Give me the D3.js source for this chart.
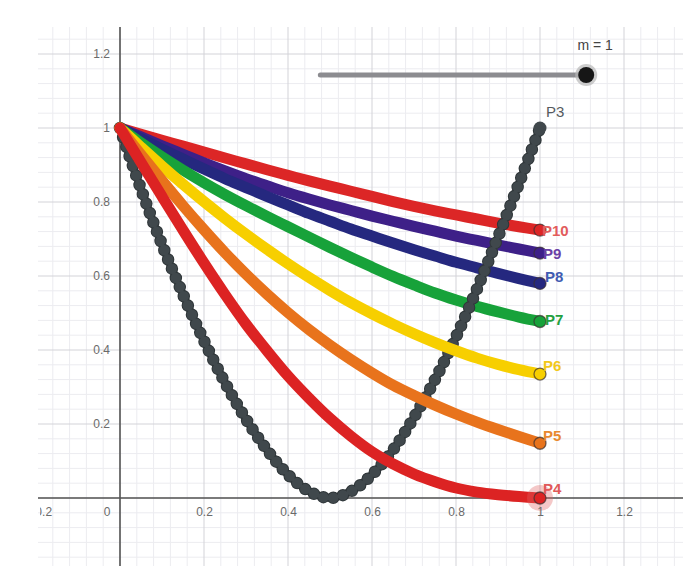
<!DOCTYPE html>
<html><head><meta charset="utf-8">
<script src="https://cdn.jsdelivr.net/npm/d3@7"></script>
<style>
body{margin:0;background:#fff}
svg{display:block}
text{font-family:Arial,"Liberation Sans",sans-serif}
</style>
</head><body>
<svg id="c" width="697" height="566"></svg>
<script>
// ---- data ----
const xs  = [0,0.05,0.1,0.15,0.2,0.25,0.3,0.35,0.4,0.45,0.5,0.55,0.6,0.65,0.7,0.75,0.8,0.85,0.9,0.95,1];
const p3  = [1.00,0.835,0.685,0.55,0.425,0.312,0.213,0.13,0.063,0.018,0.00,0.018,0.063,0.13,0.218,0.32,0.435,0.565,0.705,0.85,1.00];
const p4  = [1.00,0.907,0.815,0.724,0.635,0.55,0.47,0.398,0.33,0.27,0.215,0.167,0.125,0.092,0.065,0.044,0.027,0.016,0.009,0.004,0.00];
const p5  = [1.00,0.928,0.858,0.79,0.725,0.663,0.605,0.551,0.501,0.455,0.413,0.374,0.338,0.305,0.277,0.251,0.227,0.205,0.185,0.166,0.148];
const p6  = [1.00,0.948,0.897,0.848,0.801,0.756,0.713,0.672,0.633,0.596,0.561,0.528,0.498,0.47,0.444,0.42,0.398,0.378,0.361,0.347,0.335];
const p7  = [1.00,0.96,0.922,0.886,0.852,0.82,0.79,0.761,0.733,0.705,0.677,0.65,0.624,0.599,0.576,0.554,0.535,0.518,0.503,0.489,0.477];
const p8  = [1.00,0.971,0.943,0.916,0.889,0.863,0.839,0.815,0.792,0.769,0.748,0.727,0.708,0.689,0.671,0.654,0.637,0.622,0.607,0.593,0.58];
const p9  = [1.00,0.976,0.952,0.929,0.906,0.884,0.863,0.844,0.825,0.808,0.792,0.777,0.762,0.748,0.734,0.721,0.708,0.696,0.684,0.673,0.662];
const p10 = [1.00,0.983,0.967,0.951,0.935,0.919,0.903,0.887,0.872,0.857,0.843,0.829,0.815,0.801,0.788,0.776,0.765,0.754,0.743,0.733,0.724];
const seriesNames = ["P10","P9","P8","P7","P3","P6","P5","P4"];
const xTickValues = [-0.2,0.2,0.4,0.6,0.8,1,1.2];
const yTickValues = [0.2,0.4,0.6,0.8,1,1.2];
const sliderLabel = "m = 1";

// ---- styles ----
const styles = {
  P3:  {data:p3,  color:"#40484c", label:"#555a5e", dots:true},
  P4:  {data:p4,  color:"#dc2323", label:"#e05858"},
  P5:  {data:p5,  color:"#e8731c", label:"#e8892e"},
  P6:  {data:p6,  color:"#f7cf00", label:"#f2c81a"},
  P7:  {data:p7,  color:"#17a23a", label:"#24a040"},
  P8:  {data:p8,  color:"#25287f", label:"#3f5cb2"},
  P9:  {data:p9,  color:"#3e2088", label:"#6a40a6"},
  P10: {data:p10, color:"#dc2626", label:"#e25c5c"}
};

const svg = d3.select("#c");
const L = 38, R = 683, T = 27, B = 566;
const x = d3.scaleLinear().domain([0,1]).range([120,540]);
const y = d3.scaleLinear().domain([0,1]).range([498,128]);

const defs = svg.append("defs");
defs.append("clipPath").attr("id","clip").append("rect")
  .attr("x",L).attr("y",T).attr("width",R-L).attr("height",B-T);
defs.append("clipPath").attr("id","clipLab").append("rect")
  .attr("x",L+2).attr("y",T).attr("width",R-L-2).attr("height",B-T);

const g = svg.append("g").attr("clip-path","url(#clip)");

// grid
const xi = d3.range(-5, 36), yi = d3.range(-5, 33);
g.append("g").selectAll("line").data(xi.filter(i=>i%5!==0)).join("line")
  .attr("x1",i=>x(i*0.04)).attr("x2",i=>x(i*0.04)).attr("y1",T).attr("y2",B)
  .attr("stroke","#ececf0").attr("stroke-width",1);
g.append("g").selectAll("line").data(yi.filter(i=>i%5!==0)).join("line")
  .attr("y1",i=>y(i*0.04)).attr("y2",i=>y(i*0.04)).attr("x1",L).attr("x2",R)
  .attr("stroke","#ececf0").attr("stroke-width",1);
g.append("g").selectAll("line").data(xi.filter(i=>i%5===0)).join("line")
  .attr("x1",i=>x(i*0.04)).attr("x2",i=>x(i*0.04)).attr("y1",T).attr("y2",B)
  .attr("stroke","#d3d3d8").attr("stroke-width",1);
g.append("g").selectAll("line").data(yi.filter(i=>i%5===0)).join("line")
  .attr("y1",i=>y(i*0.04)).attr("y2",i=>y(i*0.04)).attr("x1",L).attr("x2",R)
  .attr("stroke","#d3d3d8").attr("stroke-width",1);

// axes lines
g.append("line").attr("x1",L).attr("x2",R).attr("y1",y(0)).attr("y2",y(0))
  .attr("stroke","#555").attr("stroke-width",1.6);
g.append("line").attr("x1",x(0)).attr("x2",x(0)).attr("y1",T).attr("y2",B)
  .attr("stroke","#555").attr("stroke-width",1.6);

// tick labels via d3 axes
const fmt = d => d3.format("")(d);
const labs = svg.append("g").attr("clip-path","url(#clipLab)");
const xAxis = labs.append("g").attr("transform",`translate(0,${y(0)})`)
  .call(d3.axisBottom(x).tickValues(xTickValues).tickSize(0).tickPadding(9).tickFormat(fmt));
const yAxis = labs.append("g").attr("transform",`translate(${x(0)},0)`)
  .call(d3.axisLeft(y).tickValues(yTickValues).tickSize(0).tickPadding(10).tickFormat(fmt));
[xAxis,yAxis].forEach(a=>{
  a.select(".domain").remove();
  a.selectAll("text").attr("fill","#6a6a6a").style("font-size","12px").style("font-family","Arial, 'Liberation Sans', sans-serif");
});
xAxis.selectAll(".tick").filter(d=>d<0).select("text").attr("dx",3.7);
labs.append("text").attr("x",x(0)-13).attr("y",y(0)+18).attr("text-anchor","middle")
  .attr("fill","#6a6a6a").style("font-size","12px").text("0");

// slider
g.append("line").attr("x1",x(0.477)).attr("x2",x(1.11)).attr("y1",75).attr("y2",75)
  .attr("stroke","#8c8c90").attr("stroke-width",5).attr("stroke-linecap","round");
g.append("circle").attr("cx",x(1.11)).attr("cy",75).attr("r",11).attr("fill","#b8b8b8").attr("opacity",0.7);
g.append("circle").attr("cx",x(1.11)).attr("cy",75).attr("r",8).attr("fill","#161616");
g.append("text").attr("x",x(1.11)+9).attr("y",50).attr("text-anchor","middle")
  .attr("fill","#444").style("font-size","14px").text(sliderLabel);

// curves
const line = d3.line().x((d,i)=>x(xs[i])).y(d=>y(d)).curve(d3.curveCatmullRom.alpha(0.5));
const curves = g.append("g");
seriesNames.forEach(name=>{
  const s = styles[name];
  const d = line(s.data);
  if (s.dots) {
    curves.append("path").attr("d",d).attr("fill","none")
      .attr("stroke",s.color).attr("stroke-width",8).attr("stroke-linecap","round");
    curves.append("path").attr("d",d).attr("fill","none")
      .attr("stroke","#2f3639").attr("stroke-width",12.5).attr("stroke-linecap","round")
      .attr("stroke-dasharray","0 10");
    curves.append("path").attr("d",d).attr("fill","none")
      .attr("stroke",s.color).attr("stroke-width",10.5).attr("stroke-linecap","round")
      .attr("stroke-dasharray","0 10");
  } else {
    curves.append("path").attr("d",d).attr("fill","none")
      .attr("stroke",s.color).attr("stroke-width",11).attr("stroke-linecap","round");
  }
});

// end points
const ends = ["P10","P9","P8","P7","P6","P5","P4"];
g.append("circle").attr("cx",x(1)).attr("cy",y(p4[p4.length-1])).attr("r",13)
  .attr("fill","#e06060").attr("opacity",0.35);
ends.forEach(name=>{
  const s = styles[name];
  g.append("circle").attr("cx",x(1)).attr("cy",y(s.data[s.data.length-1])).attr("r",6)
    .attr("fill",s.color).attr("stroke","#3a3030").attr("stroke-opacity",0.7).attr("stroke-width",1.3);
});
g.append("circle").attr("cx",x(1)).attr("cy",y(p3[p3.length-1])).attr("r",6.5).attr("fill","#40484c");

// labels
const labelPos = {P3:[6,-11],P10:[2,6],P9:[3,6],P8:[5,-1],P7:[5,3],P6:[3,-3],P5:[3,-2],P4:[3,-4]};
seriesNames.forEach(name=>{
  const s = styles[name];
  const last = s.data[s.data.length-1];
  g.append("text").attr("x",x(1)+labelPos[name][0]).attr("y",y(last)+labelPos[name][1])
    .attr("fill",s.label).style("font-size","15px").style("font-weight", name==="P3"?"normal":"bold")
    .text(name);
});
</script>
</body></html>
